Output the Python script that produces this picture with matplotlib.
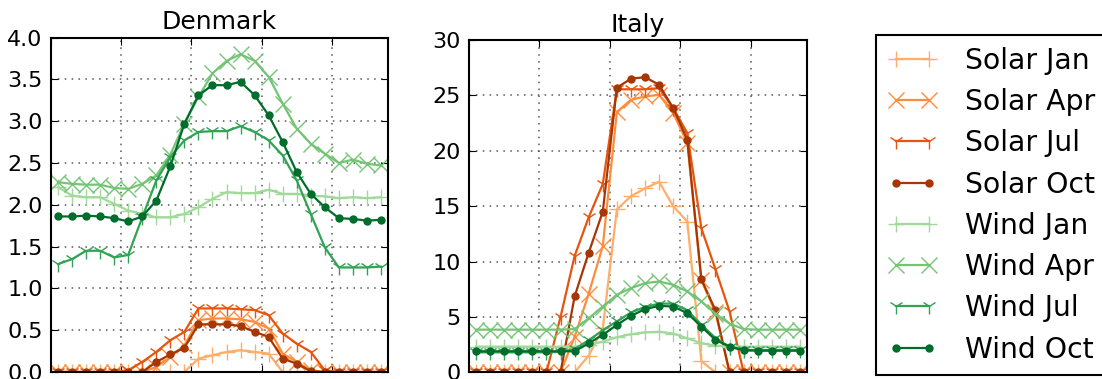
import numpy as np
import matplotlib
matplotlib.use('Agg')
import matplotlib.pyplot as plt

# hours of the day (bin centres)
hours = np.arange(24) + 0.5

labels = ['Solar Jan', 'Solar Apr', 'Solar Jul', 'Solar Oct',
          'Wind Jan', 'Wind Apr', 'Wind Jul', 'Wind Oct']

# Denmark
dk_solar_jan = [0, 0, 0, 0, 0, 0, 0, 0, 0, 0, 0.16, 0.20, 0.24, 0.26, 0.24, 0.22,
                0, 0, 0, 0, 0, 0, 0, 0]
dk_solar_apr = [0, 0, 0, 0, 0, 0, 0, 0.06, 0.18, 0.32, 0.62, 0.64, 0.64, 0.63, 0.60, 0.52,
                0.22, 0.12, 0.02, 0, 0, 0, 0, 0]
dk_solar_jul = [0, 0, 0, 0, 0, 0.02, 0.12, 0.24, 0.38, 0.48, 0.76, 0.76, 0.76, 0.75, 0.74, 0.68,
                0.46, 0.34, 0.24, 0.02, 0, 0, 0, 0]
dk_solar_oct = [0, 0, 0, 0, 0, 0, 0, 0.12, 0.21, 0.29, 0.57, 0.57, 0.57, 0.55, 0.48, 0.42,
                0.16, 0.10, 0.01, 0, 0, 0, 0, 0]
dk_wind_jan = [2.21, 2.11, 2.09, 2.09, 2.01, 1.93, 1.89, 1.85, 1.85, 1.89, 1.97, 2.07,
               2.15, 2.14, 2.14, 2.18, 2.13, 2.13, 2.11, 2.10, 2.08, 2.09, 2.08, 2.09]
dk_wind_apr = [2.27, 2.25, 2.24, 2.24, 2.20, 2.19, 2.25, 2.35, 2.60, 2.97, 3.29, 3.57,
               3.72, 3.80, 3.72, 3.53, 3.21, 2.91, 2.73, 2.61, 2.50, 2.54, 2.49, 2.47]
dk_wind_jul = [1.29, 1.35, 1.45, 1.45, 1.37, 1.40, 1.85, 2.29, 2.57, 2.77, 2.87, 2.88,
               2.88, 2.94, 2.87, 2.77, 2.59, 2.29, 1.89, 1.49, 1.25, 1.25, 1.25, 1.26]
dk_wind_oct = [1.86, 1.86, 1.87, 1.86, 1.84, 1.80, 1.86, 2.05, 2.46, 2.97, 3.31, 3.43,
               3.43, 3.47, 3.31, 3.07, 2.75, 2.39, 2.13, 1.97, 1.84, 1.83, 1.81, 1.82]

# Italy
it_solar_jan = [0, 0, 0, 0, 0, 0, 0, 0, 1.5, 4.0, 14.7, 15.9, 16.6, 17.2, 15.0, 13.6,
                1.0, 0, 0, 0, 0, 0, 0, 0]
it_solar_apr = [0, 0, 0, 0, 0, 0, 0, 3.2, 7.1, 11.4, 23.5, 24.6, 24.9, 25.05, 23.4, 20.7,
                8.3, 5.4, 0, 0, 0, 0, 0, 0]
it_solar_jul = [0, 0, 0, 0, 0, 0, 5.0, 10.5, 14.0, 17.0, 25.55, 25.55, 25.55, 25.65, 23.85, 21.6,
                13.0, 9.3, 5.5, 0, 0, 0, 0, 0]
it_solar_oct = [0, 0, 0, 0, 0, 0, 0, 6.85, 10.8, 14.5, 25.7, 26.5, 26.65, 25.95, 23.85, 21.0,
                8.4, 5.6, 0, 0, 0, 0, 0, 0]
it_wind_jan = [2.32, 2.32, 2.32, 2.32, 2.32, 2.32, 2.32, 2.32, 2.47, 2.77, 3.17, 3.44,
               3.60, 3.67, 3.50, 3.07, 2.62, 2.40, 2.32, 2.32, 2.32, 2.32, 2.32, 2.32]
it_wind_apr = [3.85, 3.85, 3.85, 3.85, 3.85, 3.85, 3.85, 3.90, 4.88, 5.94, 7.0, 7.6,
               8.05, 8.2, 7.9, 7.3, 6.4, 5.3, 4.4, 3.9, 3.85, 3.85, 3.85, 3.85]
it_wind_jul = [1.80, 1.80, 1.80, 1.80, 1.80, 1.80, 1.85, 2.10, 2.90, 3.80, 4.60, 5.40,
               5.90, 6.20, 6.20, 5.60, 4.30, 3.10, 2.30, 2.00, 2.00, 2.00, 2.00, 2.00]
it_wind_oct = [1.90, 1.90, 1.90, 1.90, 1.90, 1.90, 1.90, 1.90, 2.62, 3.38, 4.28, 5.10,
               5.70, 6.00, 5.94, 5.34, 4.13, 2.92, 2.32, 2.00, 1.95, 1.95, 1.95, 1.95]

colors = ['#fdae6b', '#fd8d3c', '#e6550d', '#a63603',
          '#a1d99b', '#74c476', '#31a354', '#006d2c']
markers = ['+', 'x', '1', 'o', '+', 'x', '1', 'o']
msizes = [11, 12, 11, 5, 11, 12, 11, 5]

dk = [dk_solar_jan, dk_solar_apr, dk_solar_jul, dk_solar_oct,
      dk_wind_jan, dk_wind_apr, dk_wind_jul, dk_wind_oct]
it = [it_solar_jan, it_solar_apr, it_solar_jul, it_solar_oct,
      it_wind_jan, it_wind_apr, it_wind_jul, it_wind_oct]

fig = plt.figure(figsize=(11.02, 3.79), dpi=100)
ax1 = fig.add_axes([51/1102, 7/379, 337/1102, 334.5/379])
ax2 = fig.add_axes([469/1102, 6.7/379, 338/1102, 332.3/379])

handles = []
for ax, data in [(ax1, dk), (ax2, it)]:
    for i, ys in enumerate(data):
        l, = ax.plot(hours, ys, color=colors[i], marker=markers[i], ms=msizes[i],
                     mew=1.0, lw=1.6, label=labels[i])
        if ax is ax1:
            handles.append(l)
    ax.set_xlim(0, 24)
    ax.set_xticks([0, 5, 10, 15, 20])
    ax.grid(True, color='#555555', linestyle=(0, (1, 3.5)), linewidth=1.1)
    ax.tick_params(direction='in', top=True, right=True, length=5, labelsize=16,
                   pad=6, labelbottom=False)
    for s in ax.spines.values():
        s.set_linewidth(1.5)

ax1.set_ylim(0, 4)
ax1.set_yticks(np.arange(0, 4.01, 0.5))
ax1.set_yticklabels(['%.1f' % v for v in np.arange(0, 4.01, 0.5)])
ax2.set_ylim(0, 30)
ax2.set_yticks(range(0, 31, 5))
ax1.set_title('Denmark', fontsize=18, pad=6)
ax2.set_title('Italy', fontsize=18, pad=6)

leg = fig.legend(handles=handles, loc='upper left', bbox_to_anchor=(876/1102, 1 - 35/379),
                 fontsize=20.3, numpoints=2, fancybox=False, framealpha=1,
                 edgecolor='black', handlelength=1.75, handletextpad=1.0,
                 labelspacing=0.47, borderpad=0.42, borderaxespad=0)
leg.get_frame().set_linewidth(1.5)

fig.savefig('out.png', dpi=100)
